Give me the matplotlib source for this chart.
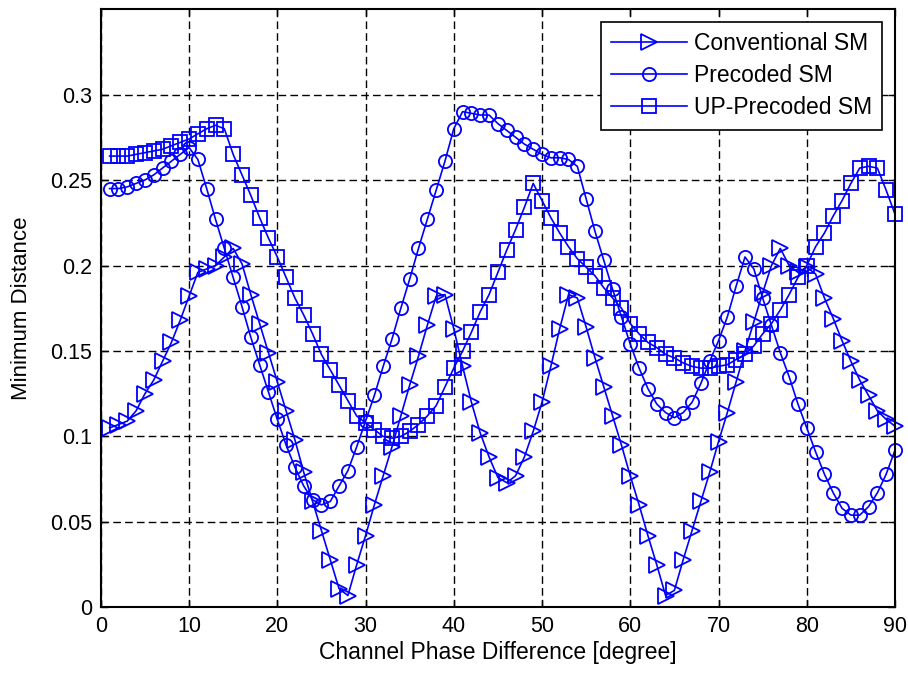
import numpy as np
import matplotlib
matplotlib.use('Agg')
import matplotlib.pyplot as plt

plt.rcParams['font.family'] = ['Liberation Sans', 'DejaVu Sans']

# channel phase difference in degrees, one point per degree
phase_deg = np.arange(1, 91)

conventional_sm = [
    0.105, 0.107, 0.109, 0.115, 0.125, 0.133, 0.144, 0.155, 0.168, 0.182,
    0.196, 0.198, 0.200, 0.205, 0.210, 0.201, 0.183, 0.166, 0.149, 0.132,
    0.115, 0.098, 0.079, 0.062, 0.045, 0.028, 0.011, 0.007, 0.025, 0.042,
    0.060, 0.077, 0.094, 0.112, 0.130, 0.147, 0.165, 0.182, 0.183, 0.163,
    0.141, 0.120, 0.102, 0.088, 0.076, 0.073, 0.077, 0.088, 0.103, 0.120,
    0.141, 0.163, 0.183, 0.181, 0.164, 0.146, 0.129, 0.112, 0.095, 0.077,
    0.060, 0.042, 0.025, 0.007, 0.010, 0.028, 0.045, 0.062, 0.079, 0.097,
    0.114, 0.132, 0.150, 0.167, 0.184, 0.200, 0.210, 0.200, 0.196, 0.199,
    0.195, 0.181, 0.169, 0.156, 0.144, 0.133, 0.124, 0.115, 0.110, 0.106,
]

precoded_sm = [
    0.245, 0.245, 0.246, 0.248, 0.250, 0.253, 0.257, 0.261, 0.265, 0.269,
    0.262, 0.245, 0.227, 0.210, 0.193, 0.176, 0.158, 0.142, 0.126, 0.110,
    0.095, 0.082, 0.071, 0.063, 0.060, 0.062, 0.071, 0.080, 0.094, 0.109,
    0.124, 0.141, 0.157, 0.175, 0.192, 0.210, 0.227, 0.244, 0.261, 0.280,
    0.290, 0.289, 0.288, 0.288, 0.283, 0.279, 0.275, 0.271, 0.268, 0.265,
    0.263, 0.263, 0.262, 0.258, 0.239, 0.220, 0.203, 0.186, 0.170, 0.154,
    0.140, 0.128, 0.119, 0.114, 0.111, 0.114, 0.120, 0.131, 0.144, 0.156,
    0.170, 0.188, 0.205, 0.198, 0.181, 0.165, 0.149, 0.135, 0.119, 0.105,
    0.091, 0.078, 0.067, 0.058, 0.054, 0.054, 0.059, 0.067, 0.078, 0.092,
]

up_precoded_sm = [
    0.264, 0.264, 0.264, 0.265, 0.266, 0.267, 0.268, 0.270, 0.272, 0.274,
    0.277, 0.280, 0.282, 0.280, 0.265, 0.253, 0.241, 0.228, 0.216, 0.205,
    0.193, 0.181, 0.171, 0.160, 0.148, 0.139, 0.130, 0.121, 0.112, 0.108,
    0.104, 0.100, 0.099, 0.100, 0.103, 0.107, 0.112, 0.118, 0.129, 0.140,
    0.150, 0.161, 0.173, 0.183, 0.196, 0.209, 0.221, 0.234, 0.248, 0.238,
    0.228, 0.219, 0.211, 0.204, 0.199, 0.194, 0.187, 0.181, 0.175, 0.166,
    0.160, 0.155, 0.152, 0.148, 0.146, 0.143, 0.141, 0.140, 0.140, 0.141,
    0.142, 0.145, 0.148, 0.153, 0.160, 0.166, 0.174, 0.183, 0.193, 0.200,
    0.211, 0.219, 0.229, 0.238, 0.248, 0.257, 0.258, 0.257, 0.244, 0.230,
]

series_labels = ['Conventional SM', 'Precoded SM', 'UP-Precoded SM']
x_ticks = list(range(0, 91, 10))
y_ticks = [0, 0.05, 0.1, 0.15, 0.2, 0.25, 0.3]
y_tick_labels = ['0', '0.05', '0.1', '0.15', '0.2', '0.25', '0.3']

fig = plt.figure(figsize=(9.08, 6.74), dpi=100)
ax = fig.add_axes([0.111, 0.0987, 0.8747, 0.8879])

style = dict(color='blue', linewidth=1.2, markerfacecolor='none',
             markeredgewidth=1.3, clip_on=False)
ax.plot(phase_deg, conventional_sm, marker='>', markersize=11,
        label=series_labels[0], **style)
ax.plot(phase_deg, precoded_sm, marker='o', markersize=9.5,
        label=series_labels[1], **style)
ax.plot(phase_deg, up_precoded_sm, marker='s', markersize=9.5,
        label=series_labels[2], **style)

ax.set_xlim(0, 90)
ax.set_ylim(0, 0.35)
ax.set_xticks(x_ticks)
ax.set_yticks(y_ticks)
ax.set_yticklabels(y_tick_labels)
ax.tick_params(direction='in', length=5, width=1, labelsize=15.5, pad=6,
               top=True, right=True)
ax.grid(True, color='black', linestyle=(0, (5.5, 3)), linewidth=1.0)
ax.set_axisbelow(True)
for sp in ax.spines.values():
    sp.set_linewidth(1.5)

ax.set_xlabel('Channel Phase Difference [degree]', fontsize=16.5, labelpad=3)
ax.set_ylabel('Minimum Distance', fontsize=16, labelpad=13)

leg = ax.legend(loc='upper right', fontsize=16.5, fancybox=False, framealpha=1,
                edgecolor='black', handlelength=3.3, handletextpad=0.3,
                borderaxespad=0.55, labelspacing=0.4, borderpad=0.45)
leg.get_frame().set_linewidth(1.2)

fig.savefig('out.png', dpi=100)
